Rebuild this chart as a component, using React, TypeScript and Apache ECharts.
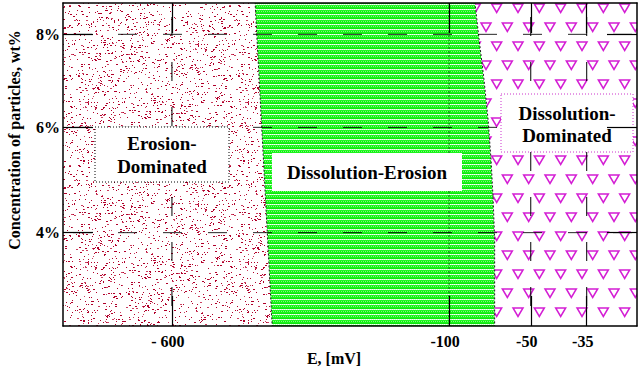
import React, { useEffect, useRef } from "react";
import * as echarts from "echarts";

// ---- tick labels ----
const eTicks = [-600, -100, -50, -35];
const eTickLabels = ["- 600", "-100", "-50", "-35"];
const cTicks = [8, 6, 4];
const cTickLabels = ["8%", "6%", "4%"];

// ---- regions ----
const regionNames = ["Erosion-Dominated", "Dissolution-Erosion", "Dissolution-Dominated"];

// boundary Erosion-Dominated | Dissolution-Erosion  (E in mV vs concentration wt%)
const lowerBoundaryC = [2.2, 4, 6, 8, 8.7];
const lowerBoundaryE = [-419, -428, -438, -447, -450];
// boundary Dissolution-Erosion | Dissolution-Dominated
const upperBoundaryC = [2.2, 3.86, 4.62, 5.38, 6.16, 7.02, 7.88, 8.7];
const upperBoundaryE = [-72.1, -72.1, -73.0, -74.3, -76.1, -78.6, -81.6, -84.2];

// the original figure uses non-uniform axes: share of the axis length (0-100) where each tick value sits
const eAxisKnots = { value: [-600, -100, -50, -35], at: [18.98, 67.26, 81.49, 91.24] };
const cAxisKnots = { value: [4, 6, 8], at: [28.9, 61.5, 90.3] };

const FONT = '"Liberation Serif", "Times New Roman", serif';

function interp(x: number, xs: number[], ys: number[]) {
  const n = xs.length;
  let i = 0;
  while (i < n - 2 && x > xs[i + 1]) i++;
  const t = (x - xs[i]) / (xs[i + 1] - xs[i]);
  return ys[i] + t * (ys[i + 1] - ys[i]);
}
const eToAxis = (e: number) => interp(e, eAxisKnots.value, eAxisKnots.at);
const cToAxis = (c: number) => interp(c, cAxisKnots.value, cAxisKnots.at);

function tile(w: number, h: number, draw: (ctx: CanvasRenderingContext2D) => void) {
  const c = document.createElement("canvas");
  c.width = w;
  c.height = h;
  const ctx = c.getContext("2d") as CanvasRenderingContext2D;
  draw(ctx);
  return { image: c.toDataURL(), repeat: "repeat", imageWidth: w, imageHeight: h };
}

function makeFills() {
  const speckle = tile(160, 160, (ctx) => {
    ctx.fillStyle = "#ffffff";
    ctx.fillRect(0, 0, 160, 160);
    let s = 987654321;
    const next = () => {
      s = (s * 1103515245 + 12345) % 2147483648;
      return s / 2147483648;
    };
    for (let y = 0; y < 160; y++) {
      for (let x = 0; x < 160; x++) {
        const r = next();
        if (r < 0.055) {
          ctx.fillStyle = next() < 0.8 ? "#b0002a" : "#cc4060";
          ctx.fillRect(x, y, next() < 0.3 ? 2 : 1, 1);
        }
      }
    }
  });
  const green = tile(4, 5, (ctx) => {
    const rows = [
      ["#22f822", "#22f822", "#22f822", "#22f822"],
      ["#10ec10", "#80fa80", "#10ec10", "#80fa80"],
      ["#1cf41c", "#1cf41c", "#1cf41c", "#1cf41c"],
      ["#0ce80c", "#0ce80c", "#0ce80c", "#0ce80c"],
      ["#ffffff", "#c0ffc0", "#ffffff", "#c0ffc0"],
    ];
    rows.forEach((row, y) =>
      row.forEach((col, x) => {
        ctx.fillStyle = col;
        ctx.fillRect(x, y, 1, 1);
      })
    );
  });
  const tri = tile(64, 76, (ctx) => {
    ctx.fillStyle = "#ffffff";
    ctx.fillRect(0, 0, 64, 76);
    ctx.strokeStyle = "#d41ed4";
    ctx.lineWidth = 1.5;
    for (let row = 0; row < 4; row++) {
      for (let col = 0; col < 3; col++) {
        const cx0 = 6 + (col * 64) / 3 + (row % 2 ? 32 / 3 : 0);
        const cy0 = 8 + row * 19;
        for (const dx of [-64, 0, 64]) {
          for (const dy of [-76, 0, 76]) {
            const cx = cx0 + dx;
            const cy = cy0 + dy;
            ctx.beginPath();
            ctx.moveTo(cx - 5, cy - 4);
            ctx.lineTo(cx + 5, cy - 4);
            ctx.lineTo(cx, cy + 4.5);
            ctx.closePath();
            ctx.stroke();
          }
        }
      }
    }
  });
  return [speckle, green, tri];
}

export default function App() {
  const ref = useRef<HTMLDivElement>(null);
  useEffect(() => {
    if (!ref.current) return;
    const chart = echarts.init(ref.current, undefined, { renderer: "svg" });
    const fills = makeFills();
    const lower = lowerBoundaryC.map((c, k) => [eToAxis(lowerBoundaryE[k]), cToAxis(c)]);
    const upper = upperBoundaryC.map((c, k) => [eToAxis(upperBoundaryE[k]), cToAxis(c)]);
    const ePos = eTicks.map(eToAxis);
    const cPos = cTicks.map(cToAxis);
    const bandLeft = Math.max(...lowerBoundaryE);
    const bandRight = Math.min(...upperBoundaryE);

    const labelStyle = { fontFamily: FONT, fontWeight: "bold" as const, fontSize: 16, color: "#000" };
    const xCommon: any = {
      type: "value",
      min: 0,
      max: 100,
      z: 10,
      axisLine: { show: true, onZero: false, lineStyle: { color: "#000", width: 1.5 } },
      axisTick: { show: true, inside: true, length: 30, customValues: ePos, lineStyle: { color: "#000", width: 1.2 } },
      splitLine: { show: false },
    };
    const yCommon: any = {
      type: "value",
      min: 0,
      max: 100,
      z: 10,
      axisLine: { show: true, onZero: false, lineStyle: { color: "#000", width: 1.5 } },
      axisTick: { show: true, inside: true, length: 30, customValues: cPos, lineStyle: { color: "#000", width: 1.2 } },
      splitLine: { show: false },
    };

    const textStyle = (text: string, size: number, lineHeight?: number) => ({
      text,
      font: `bold ${size}px ${FONT}`,
      fill: "#000",
      align: "center",
      verticalAlign: "middle",
      textAlign: "center",
      textVerticalAlign: "middle",
      ...(lineHeight ? { lineHeight } : {}),
    });

    const option: any = {
      animation: false,
      backgroundColor: "#ffffff",
      grid: { left: 63, right: 5, top: 3, bottom: 46 },
      xAxis: [
        {
          ...xCommon,
          position: "bottom",
          axisLabel: {
            ...labelStyle,
            customValues: ePos,
            margin: 7,
            padding: [0, 8, 0, 0],
            formatter: (v: number) => {
              const i = ePos.findIndex((p) => Math.abs(p - v) < 1e-6);
              return i >= 0 ? eTickLabels[i] : "";
            },
          },
        },
        { ...xCommon, position: "top", axisLabel: { show: false } },
      ],
      yAxis: [
        {
          ...yCommon,
          position: "left",
          axisLabel: {
            ...labelStyle,
            customValues: cPos,
            margin: 3,
            formatter: (v: number) => {
              const i = cPos.findIndex((p) => Math.abs(p - v) < 1e-6);
              return i >= 0 ? cTickLabels[i] : "";
            },
          },
        },
        { ...yCommon, position: "right", axisLabel: { show: false } },
      ],
      series: [
        {
          type: "custom",
          name: "regions",
          z: 1,
          clip: true,
          data: regionNames.map((n, i) => ({ name: n, value: [i] })),
          renderItem: (params: any, api: any) => {
            const i = params.dataIndex;
            let pts: number[][];
            if (i === 0) {
              pts = [[-1, lower[0][1]], ...lower, [-1, lower[lower.length - 1][1]]];
            } else if (i === 1) {
              pts = [...lower, ...upper.slice().reverse()];
            } else {
              pts = [...upper, [101, upper[upper.length - 1][1]], [101, upper[0][1]]];
            }
            return {
              type: "polygon",
              shape: { points: pts.map((p) => api.coord(p)) },
              style: { fill: fills[i], stroke: null },
            };
          },
        },
        {
          type: "custom",
          name: "boundaries",
          z: 2,
          clip: true,
          data: [[0], [1]],
          renderItem: (params: any, api: any) => {
            const pts = params.dataIndex === 0 ? lower : upper;
            return {
              type: "polyline",
              shape: { points: pts.map((p) => api.coord(p)) },
              style: { fill: null, stroke: "#1a1a1a", lineWidth: 1, lineDash: [2, 2] },
            };
          },
        },
        {
          type: "custom",
          name: "vgrid",
          z: 3,
          clip: true,
          data: eTicks.map((e) => [eToAxis(e)]),
          renderItem: (params: any, api: any) => {
            const u = api.value(0);
            const e = eTicks[params.dataIndex];
            const inBand = e > bandLeft && e < bandRight;
            const p1 = api.coord([u, 100]);
            const p2 = api.coord([u, 0]);
            return {
              type: "line",
              shape: { x1: p1[0], y1: p1[1], x2: p2[0], y2: p2[1] },
              style: inBand
                ? { stroke: "#0a400a", lineWidth: 1, lineDash: [2, 2], opacity: 0.75 }
                : { stroke: "#000", lineWidth: 1, lineDash: [19, 26], lineDashOffset: 31 },
            };
          },
        },
        {
          type: "custom",
          name: "hgrid",
          z: 3,
          clip: true,
          data: cTicks.map((c) => [0, cToAxis(c)]),
          renderItem: (params: any, api: any) => {
            const v = api.value(1);
            const p1 = api.coord([0, v]);
            const p2 = api.coord([100, v]);
            return {
              type: "line",
              shape: { x1: p1[0], y1: p1[1], x2: p2[0], y2: p2[1] },
              style: { stroke: "#000", lineWidth: 1, lineDash: [19, 26], lineDashOffset: 35, opacity: 0.85 },
            };
          },
        },
      ],
      graphic: [
        {
          type: "rect",
          z: 5,
          shape: { x: 95, y: 127, width: 134, height: 55 },
          style: { fill: "#ffffff", stroke: "#000", lineWidth: 1, lineDash: [1, 2] },
        },
        { type: "text", z: 6, x: 162, y: 155, style: textStyle("Erosion-\nDominated", 19, 23) },
        {
          type: "rect",
          z: 5,
          shape: { x: 272, y: 153, width: 190, height: 38 },
          style: { fill: "#ffffff" },
        },
        { type: "text", z: 6, x: 367, y: 172, style: textStyle("Dissolution-Erosion", 19) },
        {
          type: "rect",
          z: 5,
          shape: { x: 501, y: 94, width: 132, height: 58 },
          style: { fill: "#ffffff", stroke: "#cc33cc", lineWidth: 1, lineDash: [1, 2] },
        },
        { type: "text", z: 6, x: 567, y: 124, style: textStyle("Dissolution-\nDominated", 19, 22) },
        { type: "text", z: 6, x: 334, y: 358, style: textStyle("E, [mV]", 16) },
        {
          type: "text",
          z: 6,
          x: 14,
          y: 140,
          rotation: Math.PI / 2,
          style: textStyle("Concentration of particles, wt%", 16),
        },
      ],
    };
    chart.setOption(option);
    return () => chart.dispose();
  }, []);
  return (
    <div
      ref={ref}
      style={{ position: "fixed", left: 0, top: 0, width: 642, height: 372, background: "#fff" }}
    />
  );
}
